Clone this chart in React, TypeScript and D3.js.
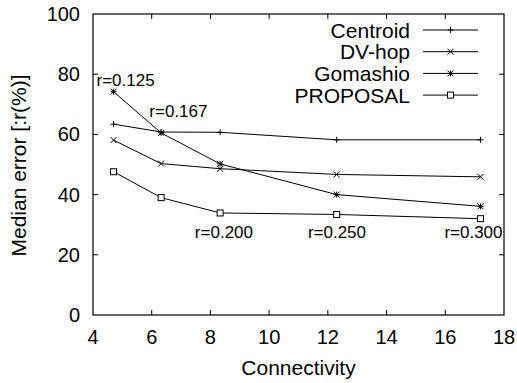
import React, { useRef, useEffect } from 'react';
import * as d3 from 'd3';

const connectivity = [4.7, 6.32, 8.33, 12.3, 17.2];
const centroid = [63.4, 60.8, 60.7, 58.2, 58.2];
const dvHop = [58.1, 50.3, 48.6, 46.7, 45.9];
const gomashio = [74.2, 60.5, 50.2, 40.0, 36.1];
const proposal = [47.6, 39.0, 33.9, 33.4, 32.0];

const seriesNames = ['Centroid', 'DV-hop', 'Gomashio', 'PROPOSAL'];
const markers = ['plus', 'cross', 'star', 'square'];

const radiusLabels = ['r=0.125', 'r=0.167', 'r=0.200', 'r=0.250', 'r=0.300'];
const radiusX = [5.11, 6.91, 8.46, 12.31, 16.96];
const radiusY = [78.2, 67.7, 27.5, 27.5, 27.5];

const xTicks = [4, 6, 8, 10, 12, 14, 16, 18];
const yTicks = [0, 20, 40, 60, 80, 100];

const FONT = '"Liberation Sans", Arial, Helvetica, sans-serif';

const drawMarker = (g, type, cx, cy) => {
  const s = 3;
  if (type === 'plus' || type === 'star') {
    g.append('path').attr('d', `M${cx - s},${cy}H${cx + s}M${cx},${cy - s}V${cy + s}`);
  }
  if (type === 'cross' || type === 'star') {
    g.append('path').attr('d', `M${cx - s},${cy - s}L${cx + s},${cy + s}M${cx - s},${cy + s}L${cx + s},${cy - s}`);
  }
  if (type === 'square') {
    g.append('rect').attr('x', cx - s).attr('y', cy - s).attr('width', 2 * s).attr('height', 2 * s).attr('fill', 'white');
  }
};

const Chart = ({ width, height }) => {
  const svgRef = useRef();

  useEffect(() => {
    const svg = d3.select(svgRef.current);
    svg.selectAll('*').remove();

    const margin = { top: 14, right: 13, bottom: 68, left: 93 };
    const innerWidth = width - margin.left - margin.right;
    const innerHeight = height - margin.top - margin.bottom;

    const x = d3.scaleLinear().domain([4, 18]).range([0, innerWidth]);
    const y = d3.scaleLinear().domain([0, 100]).range([innerHeight, 0]);

    const g = svg.append('g').attr('transform', `translate(${margin.left},${margin.top})`);

    // frame
    g.append('rect')
      .attr('width', innerWidth).attr('height', innerHeight)
      .attr('fill', 'none').attr('stroke', '#000').attr('stroke-width', 1.2);

    const ticks = g.append('g').attr('stroke', '#000').attr('stroke-width', 1);
    xTicks.slice(1, -1).forEach(t => {
      ticks.append('line').attr('x1', x(t)).attr('x2', x(t)).attr('y1', innerHeight).attr('y2', innerHeight - 5);
      ticks.append('line').attr('x1', x(t)).attr('x2', x(t)).attr('y1', 0).attr('y2', 5);
    });
    yTicks.slice(1, -1).forEach(t => {
      ticks.append('line').attr('x1', 0).attr('x2', 5).attr('y1', y(t)).attr('y2', y(t));
      ticks.append('line').attr('x1', innerWidth).attr('x2', innerWidth - 5).attr('y1', y(t)).attr('y2', y(t));
    });

    g.selectAll('.xt').data(xTicks).enter().append('text')
      .attr('x', d => x(d)).attr('y', innerHeight + 29)
      .attr('text-anchor', 'middle').attr('font-size', 20).attr('font-family', FONT)
      .text(d => d);

    g.selectAll('.yt').data(yTicks).enter().append('text')
      .attr('x', -13).attr('y', d => y(d) + 7)
      .attr('text-anchor', 'end').attr('font-size', 20).attr('font-family', FONT)
      .text(d => d);

    svg.append('text')
      .attr('x', margin.left + innerWidth / 2).attr('y', 375)
      .attr('text-anchor', 'middle').attr('font-size', 21).attr('font-family', FONT)
      .text('Connectivity');

    svg.append('text')
      .attr('transform', `translate(26,${margin.top + innerHeight / 2 + 1}) rotate(-90)`)
      .attr('text-anchor', 'middle').attr('font-size', 21).attr('font-family', FONT)
      .text('Median error [:r(%)]');

    const allSeries = [centroid, dvHop, gomashio, proposal];
    const line = d3.line().x((d, i) => x(connectivity[i])).y(d => y(d));

    allSeries.forEach((vals, si) => {
      g.append('path').datum(vals).attr('d', line)
        .attr('fill', 'none').attr('stroke', '#000').attr('stroke-width', 1);
      const mg = g.append('g').attr('stroke', '#000').attr('stroke-width', 1).attr('fill', 'none');
      vals.forEach((v, i) => drawMarker(mg, markers[si], x(connectivity[i]), y(v)));
    });

    // legend
    seriesNames.forEach((name, i) => {
      const ly = 16 + i * 21.7;
      g.append('text')
        .attr('x', 317).attr('y', ly + 7.5)
        .attr('text-anchor', 'end').attr('font-size', 21).attr('font-family', FONT)
        .text(name);
      g.append('line').attr('x1', 330).attr('x2', 385).attr('y1', ly).attr('y2', ly)
        .attr('stroke', '#000').attr('stroke-width', 1);
      const mg = g.append('g').attr('stroke', '#000').attr('stroke-width', 1).attr('fill', 'none');
      drawMarker(mg, markers[i], 357.5, ly);
    });

    g.selectAll('.rl').data(radiusLabels).enter().append('text')
      .attr('x', (d, i) => x(radiusX[i])).attr('y', (d, i) => y(radiusY[i]) + 6)
      .attr('text-anchor', 'middle').attr('font-size', 17).attr('font-family', FONT)
      .text(d => d);
  }, [width, height]);

  return <svg ref={svgRef} width={width} height={height} style={{ display: 'block' }}></svg>;
};

export default function App() {
  return (
    <div style={{ position: 'fixed', top: 0, left: 0, width: 517, height: 383, overflow: 'hidden', background: 'white' }}>
      <Chart width={517} height={383} />
    </div>
  );
}
